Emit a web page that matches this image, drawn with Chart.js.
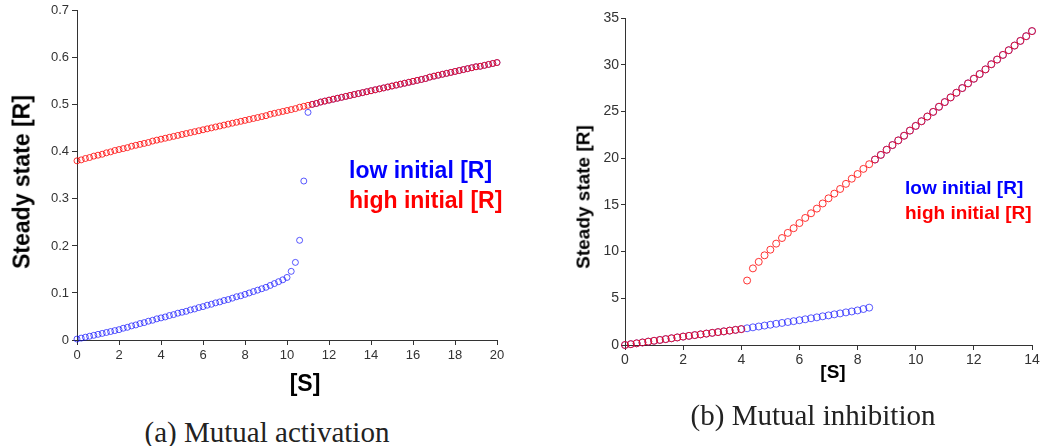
<!DOCTYPE html>
<html>
<head>
<meta charset="utf-8">
<script src="https://cdn.jsdelivr.net/npm/chart.js@4/dist/chart.umd.min.js"></script>
<style>
  html, body { margin: 0; padding: 0; background: #fff; }
  #wrap { position: relative; width: 1047px; height: 446px; overflow: hidden; }
  canvas { position: absolute; top: 0; }
  .lbl { position: absolute; white-space: nowrap; line-height: 1;
         font-family: 'Liberation Sans', Arial, sans-serif; font-weight: bold; color: #000; }
  .c { transform: translate(-50%, -50%); }
  .l { transform: translateY(-50%); }
  .rot { transform: translate(-50%, -50%) rotate(-90deg); }
  .cap { position: absolute; white-space: nowrap; line-height: 1; transform: translate(-50%, -50%);
         font-family: 'Liberation Serif', 'Times New Roman', serif; font-size: 29px; color: #222; }
</style>
</head>
<body>
<div id="wrap">
  <canvas id="chartA" width="520" height="400" style="left:0"></canvas>
  <canvas id="chartB" width="527" height="400" style="left:520px"></canvas>

  <div class="lbl rot" style="left:22px;top:182px;font-size:23px">Steady state [R]</div>
  <div class="lbl c"   style="left:305px;top:383px;font-size:23px">[S]</div>
  <div class="lbl l"   style="left:349px;top:170px;font-size:23px;color:#0000ff">low initial [R]</div>
  <div class="lbl l"   style="left:349px;top:200px;font-size:23px;color:#ff0000">high initial [R]</div>
  <div class="cap"     style="left:267px;top:432px">(a) Mutual activation</div>

  <div class="lbl rot" style="left:583px;top:197px;font-size:19px">Steady state [R]</div>
  <div class="lbl c"   style="left:833px;top:371px;font-size:19px">[S]</div>
  <div class="lbl l"   style="left:905px;top:187px;font-size:19px;color:#0000ff">low initial [R]</div>
  <div class="lbl l"   style="left:905px;top:212px;font-size:19px;color:#ff0000">high initial [R]</div>
  <div class="cap"     style="left:813px;top:415px">(b) Mutual inhibition</div>
</div>

<script>
// ─── (a) Mutual activation : [S] de 0 à 20 par pas de 0.2 ────────────────
const sA = [
  0, 0.2, 0.4, 0.6, 0.8, 1, 1.2, 1.4, 1.6, 1.8,
  2, 2.2, 2.4, 2.6, 2.8, 3, 3.2, 3.4, 3.6, 3.8,
  4, 4.2, 4.4, 4.6, 4.8, 5, 5.2, 5.4, 5.6, 5.8,
  6, 6.2, 6.4, 6.6, 6.8, 7, 7.2, 7.4, 7.6, 7.8,
  8, 8.2, 8.4, 8.6, 8.8, 9, 9.2, 9.4, 9.6, 9.8,
  10, 10.2, 10.4, 10.6, 10.8, 11, 11.2, 11.4, 11.6, 11.8,
  12, 12.2, 12.4, 12.6, 12.8, 13, 13.2, 13.4, 13.6, 13.8,
  14, 14.2, 14.4, 14.6, 14.8, 15, 15.2, 15.4, 15.6, 15.8,
  16, 16.2, 16.4, 16.6, 16.8, 17, 17.2, 17.4, 17.6, 17.8,
  18, 18.2, 18.4, 18.6, 18.8, 19, 19.2, 19.4, 19.6, 19.8,
  20,
];
const highA = [
  0.381, 0.383, 0.386, 0.388, 0.391, 0.393, 0.395, 0.398, 0.400, 0.403,
  0.405, 0.407, 0.409, 0.412, 0.414, 0.416, 0.418, 0.420, 0.423, 0.425,
  0.427, 0.429, 0.431, 0.433, 0.435, 0.437, 0.439, 0.441, 0.443, 0.445,
  0.447, 0.449, 0.451, 0.453, 0.455, 0.457, 0.459, 0.461, 0.463, 0.465,
  0.467, 0.469, 0.471, 0.473, 0.475, 0.477, 0.480, 0.482, 0.484, 0.486,
  0.488, 0.490, 0.492, 0.495, 0.497, 0.499, 0.501, 0.503, 0.506, 0.508,
  0.510, 0.512, 0.514, 0.516, 0.518, 0.520, 0.522, 0.524, 0.526, 0.528,
  0.530, 0.532, 0.534, 0.536, 0.538, 0.540, 0.542, 0.544, 0.546, 0.548,
  0.550, 0.552, 0.554, 0.556, 0.559, 0.561, 0.563, 0.565, 0.567, 0.569,
  0.571, 0.573, 0.575, 0.577, 0.579, 0.581, 0.582, 0.584, 0.586, 0.588,
  0.590,
];
const lowA = [
  0.002, 0.004, 0.006, 0.008, 0.010, 0.012, 0.014, 0.016, 0.018, 0.020,
  0.022, 0.025, 0.027, 0.030, 0.032, 0.035, 0.037, 0.040, 0.042, 0.045,
  0.047, 0.049, 0.052, 0.054, 0.057, 0.059, 0.061, 0.064, 0.066, 0.069,
  0.071, 0.074, 0.076, 0.079, 0.081, 0.084, 0.086, 0.089, 0.092, 0.094,
  0.097, 0.100, 0.103, 0.106, 0.109, 0.112, 0.116, 0.120, 0.124, 0.128,
  0.133, 0.146, 0.165, 0.212, 0.338, 0.484, 0.501, 0.503, 0.506, 0.508,
  0.510, 0.512, 0.514, 0.516, 0.518, 0.520, 0.522, 0.524, 0.526, 0.528,
  0.530, 0.532, 0.534, 0.536, 0.538, 0.540, 0.542, 0.544, 0.546, 0.548,
  0.550, 0.552, 0.554, 0.556, 0.559, 0.561, 0.563, 0.565, 0.567, 0.569,
  0.571, 0.573, 0.575, 0.577, 0.579, 0.581, 0.582, 0.584, 0.586, 0.588,
  0.590,
];

// ─── (b) Mutual inhibition : [S] de 0 à 14 par pas de 0.2 ────────────────
const sB = [
  0, 0.2, 0.4, 0.6, 0.8, 1, 1.2, 1.4, 1.6, 1.8,
  2, 2.2, 2.4, 2.6, 2.8, 3, 3.2, 3.4, 3.6, 3.8,
  4, 4.2, 4.4, 4.6, 4.8, 5, 5.2, 5.4, 5.6, 5.8,
  6, 6.2, 6.4, 6.6, 6.8, 7, 7.2, 7.4, 7.6, 7.8,
  8, 8.2, 8.4, 8.6, 8.8, 9, 9.2, 9.4, 9.6, 9.8,
  10, 10.2, 10.4, 10.6, 10.8, 11, 11.2, 11.4, 11.6, 11.8,
  12, 12.2, 12.4, 12.6, 12.8, 13, 13.2, 13.4, 13.6, 13.8,
  14,
];
const highB = [
  0, 0.09, 0.18, 0.27, 0.36, 0.45, 0.54, 0.63, 0.72, 0.81,
  0.90, 0.98, 1.06, 1.14, 1.22, 1.30, 1.38, 1.46, 1.54, 1.62,
  1.70, 6.9, 8.2, 8.9, 9.6, 10.2, 10.85, 11.45, 12.0, 12.5,
  13.05, 13.6, 14.1, 14.6, 15.15, 15.7, 16.2, 16.7, 17.25, 17.8,
  18.3, 18.85, 19.35, 19.85, 20.35, 20.9, 21.4, 21.9, 22.4, 22.95,
  23.45, 23.95, 24.45, 24.95, 25.5, 26.0, 26.5, 27.0, 27.5, 28.0,
  28.5, 29.0, 29.5, 30.05, 30.55, 31.05, 31.55, 32.05, 32.55, 33.05,
  33.6,
];
const lowB = [
  0, 0.09, 0.18, 0.27, 0.36, 0.45, 0.54, 0.63, 0.72, 0.81,
  0.90, 0.98, 1.06, 1.14, 1.22, 1.30, 1.38, 1.46, 1.54, 1.62,
  1.70, 1.79, 1.89, 1.98, 2.08, 2.17, 2.27, 2.36, 2.46, 2.55,
  2.65, 2.75, 2.86, 2.96, 3.07, 3.17, 3.28, 3.38, 3.49, 3.59,
  3.70, 3.85, 4.0, 19.85, 20.35, 20.9, 21.4, 21.9, 22.4, 22.95,
  23.45, 23.95, 24.45, 24.95, 25.5, 26.0, 26.5, 27.0, 27.5, 28.0,
  28.5, 29.0, 29.5, 30.05, 30.55, 31.05, 31.55, 32.05, 32.55, 33.05,
  33.6,
];

// ─── Helpers ──────────────────────────────────────────────────────────────
const RED  = 'rgba(255,0,0,0.8)';
const BLUE = 'rgba(0,0,255,0.65)';
const AXIS = '#333';

function pts(xs, ys) {
  return xs.map((x, i) => ({ x, y: ys[i] }));
}

function circles(data, color, radius) {
  return {
    data,
    showLine: false,
    clip: false,
    pointStyle: 'circle',
    pointRadius: radius,
    pointHoverRadius: radius,
    pointBorderWidth: 1,
    pointBorderColor: color,
    pointBackgroundColor: 'rgba(0,0,0,0)',
    borderColor: color,
    backgroundColor: 'rgba(0,0,0,0)',
  };
}

function axis(min, max, step, fontSize, tickLen, pad, fit) {
  return {
    type: 'linear',
    min, max,
    afterFit: fit,
    ticks: {
      stepSize: step,
      padding: pad,
      color: AXIS,
      font: { family: "'Liberation Sans', Arial, sans-serif", size: fontSize },
      callback: (v) => String(+v.toFixed(2)),
    },
    grid: { display: true, drawOnChartArea: false, drawTicks: true, tickLength: tickLen, color: AXIS },
    border: { display: true, color: AXIS, width: 1 },
  };
}

function makeChart(id, datasets, scales, padding) {
  return new Chart(document.getElementById(id), {
    type: 'scatter',
    data: { datasets },
    options: {
      responsive: false,
      animation: false,
      layout: { padding },
      plugins: { legend: { display: false }, tooltip: { enabled: false } },
      scales,
    },
  });
}

// ─── Rendu ────────────────────────────────────────────────────────────────
// rouge en premier : dessiné par-dessus le bleu (superposition bordeaux)
makeChart('chartA',
  [circles(pts(sA, highA), RED, 3), circles(pts(sA, lowA), BLUE, 3)],
  {
    x: axis(0, 20, 2, 13, 5, 3, (s) => { s.height = 60; }),
    y: axis(0, 0.7, 0.1, 13, 5, 3, (s) => { s.width = 77; }),
  },
  { top: 8, right: 23, left: 0, bottom: 0 });

makeChart('chartB',
  [circles(pts(sB, highB), RED, 3.5), circles(pts(sB, lowB), BLUE, 3.5)],
  {
    x: axis(0, 14, 2, 14, 5, 2, (s) => { s.height = 55; }),
    y: axis(0, 35, 5, 14, 4, 2, (s) => { s.width = 105; }),
  },
  { top: 18, right: 15, left: 0, bottom: 0 });
</script>
</body>
</html>
